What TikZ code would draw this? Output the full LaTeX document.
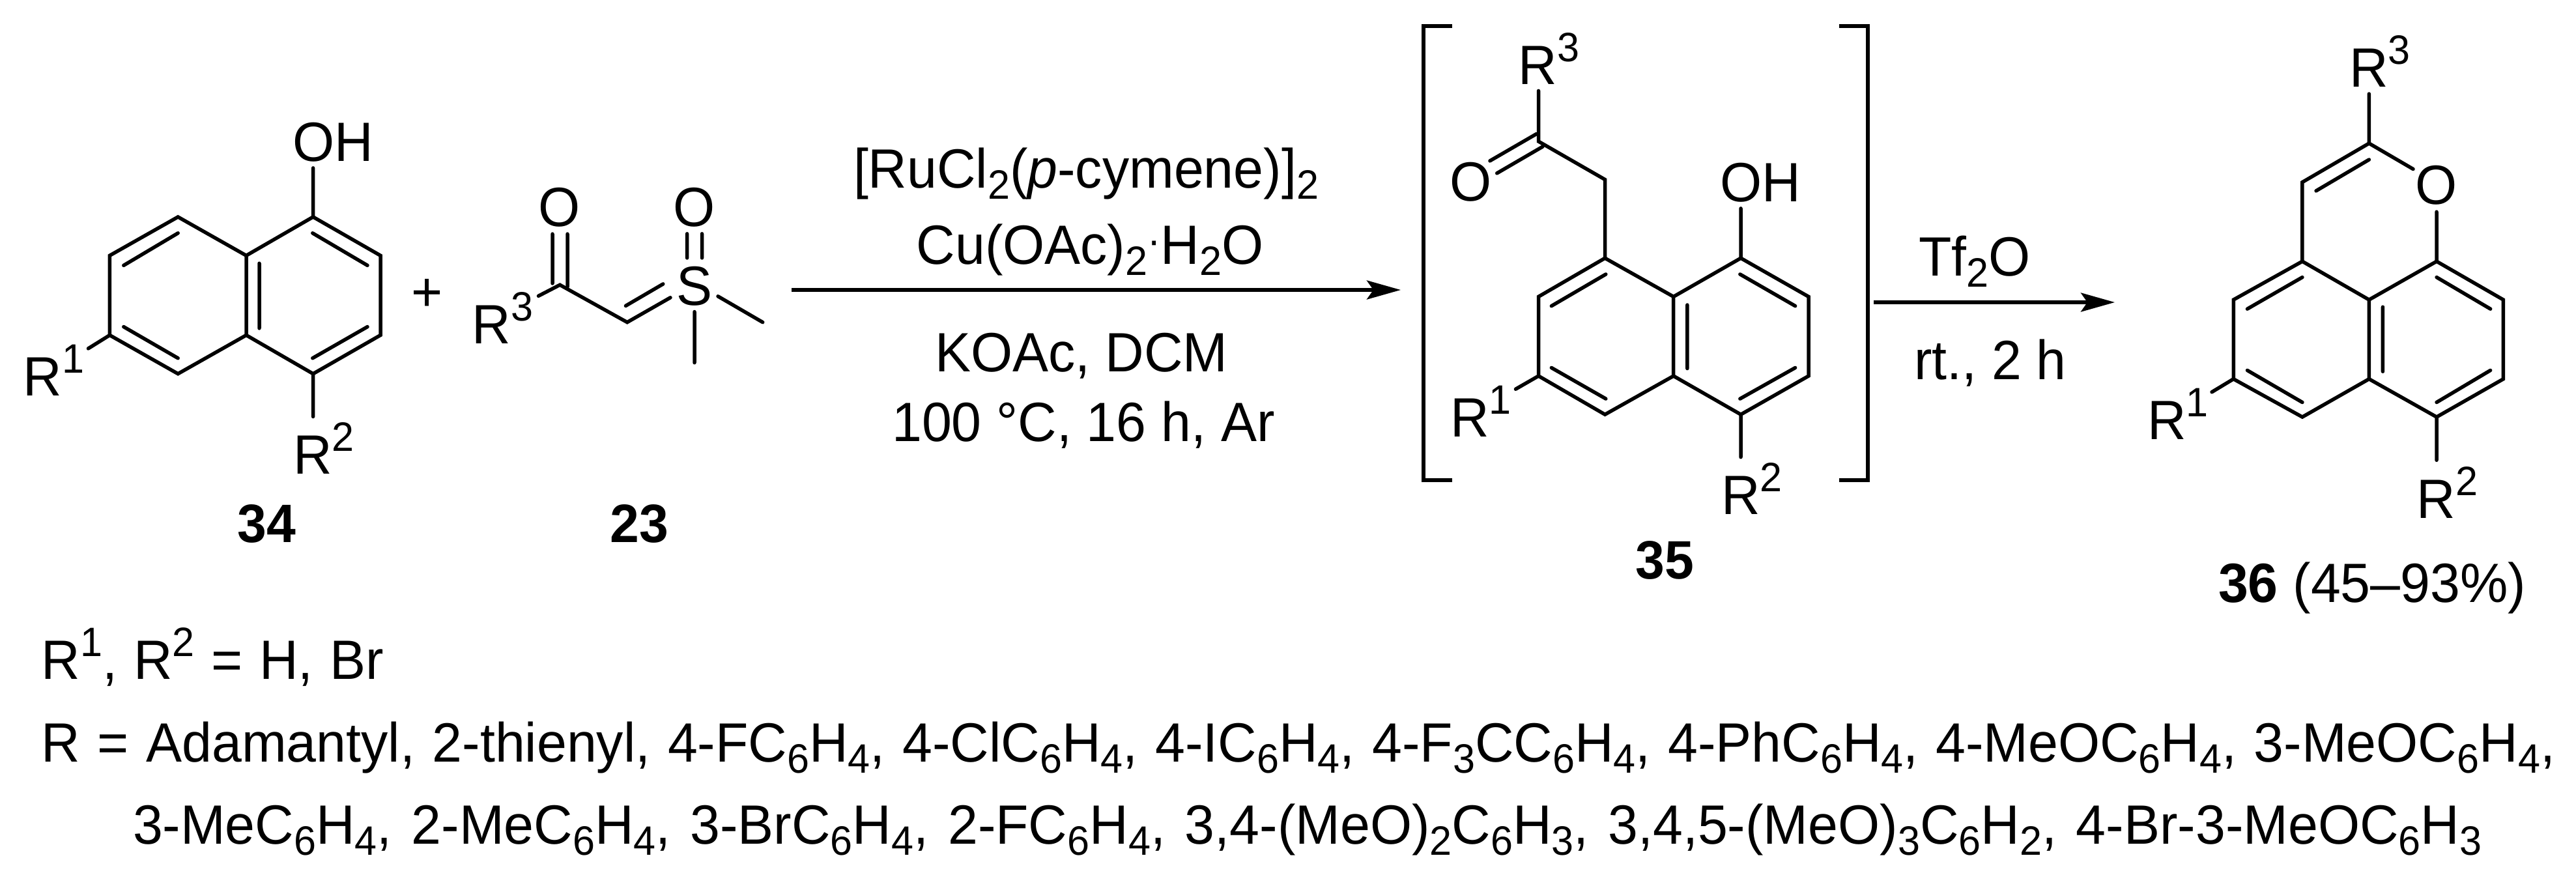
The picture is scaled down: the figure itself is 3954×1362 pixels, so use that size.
\documentclass[tikz,border=0pt]{standalone}
\usepackage{fontspec}
\setmainfont[FakeStretch=0.97]{Liberation Sans}
\usetikzlibrary{arrows.meta}
\newcommand{\smf}{\fontsize{12.6}{12.6}\selectfont}
\newcommand{\up}[1]{\raisebox{7pt}{\smf #1}}
\newcommand{\dn}[1]{\raisebox{-3.4pt}{\smf #1}}
\tikzset{
  x=0.2pt,y=-0.2pt,
  bond/.style={line width=1.1pt,line cap=round,line join=miter},
  txt/.style={inner sep=0pt,outer sep=0pt,font=\fontsize{17}{17}\selectfont,anchor=base},
  txtw/.style={txt,anchor=base west},
  bold/.style={txt,font=\fontsize{16.6}{16.6}\selectfont\bfseries},
  rxn/.style={line width=1.05pt,-{Stealth[length=10.4pt,width=5.8pt,inset=2pt]}},
  brk/.style={line width=1.2pt}
}
\begin{document}
\begin{tikzpicture}
\useasboundingbox (0,0) rectangle (3954,1362);
% ---------- 34
\foreach \n/\x/\y in {a1/480.6/334.9,a2/584/394.8,a3/584/518.3,a4/480.6/578.2,a5/378/518.3,a6/378/394.8,a7/273.2/334.9,a8/168.4/394.8,a9/168.4/518.3,a10/273.2/578.2,
 aOH/480.6/259,aR2/480.6/644.7,aR1/135.5/539,
 ai1/273.2/360,ai2/189.8/410.1,ai3/479.8/360,ai4/564/410.1,ai5/398/406.9,ai6/398/507.6,ai7/189.8/505.3,ai8/273.2/554,ai9/564/505.3,ai10/479.8/554}
 {\coordinate (\n) at (\x,{150+(\y-150)*0.9895});}
\draw[bond] (a1)--(a2)--(a3)--(a4)--(a5)--(a6)--cycle;
\draw[bond] (a6)--(a7)--(a8)--(a9)--(a10)--(a5);
\draw[bond] (a1)--(aOH) (a4)--(aR2) (a9)--(aR1);
\draw[bond] (ai1)--(ai2) (ai3)--(ai4) (ai5)--(ai6) (ai7)--(ai8) (ai9)--(ai10);
\node[txtw] (aLOH) at (449,247.5) {OH};
\node[txtw] (aLR1) at (35.5,607) {R\up{1}};
\node[txtw] (aLR2) at (450,727.7) {R\up{2}};
\node[bold] (l34) at (409.5,832.5) {34};
\node[txt] (plus) at (656,477.5) {+};
% ---------- 23
\foreach \n/\x/\y in {b1/859.4/440.3,b2/962.7/498.3,bR/826.5/457.5,bO1/848/361.3,bO1b/848/438,bO2/871/361.3,bO2b/871/443.5,
 bS1/1029/460,bi1/960.4/472.8,bi2/1017.8/438.9,bSO1/1054.6/361,bSO1b/1054.6/398.5,bSO2/1077.5/361,bSO2b/1077.5/398.5,
 bMa/1102/458,bMb/1170.7/498.3,bMc/1066/482,bMd/1066/561}
 {\coordinate (\n) at (\x,{150+(\y-150)*0.9895});}
\draw[bond] (bR)--(b1)--(b2)--(bS1);
\draw[bond] (bO1)--(bO1b) (bO2)--(bO2b) (bi1)--(bi2);
\draw[bond] (bSO1)--(bSO1b) (bSO2)--(bSO2b) (bMa)--(bMb) (bMc)--(bMd);
\node[txt] (bLO) at (859,347) {O};
\node[txt] (bLO2) at (1066,347) {O};
\node[txt] (bLS) at (1066,468.6) {S};
\node[txtw] (bLR) at (724.5,527) {R\up{3}};
\node[bold] (l23) at (981,832.5) {23};
% ---------- arrow 1
\coordinate (r1s) at (1215,445);
\coordinate (r1e) at (2150,445);
\draw[rxn] (r1s)--(r1e);
\node[txt] (t1) at (1667,288) {[RuCl\dn{2}(\textit{p}-cymene)]\dn{2}};
\node[txt] (t2) at (1673,405) {Cu(OAc)\dn{2}\raisebox{3pt}{\smf ·}H\dn{2}O};
\node[txt] (t3) at (1660,570.5) {KOAc, DCM};
\node[txt] (t4) at (1663,677.3) {100 °C, 16 h, Ar};
% ---------- 35
\foreach \n/\x/\y in {c1/2463.5/400.7,c2/2361.5/460.5,c3/2361.5/583.6,c4/2463.5/643.4,c5/2568.7/583.6,c6/2568.7/460.5,c7/2672/400.7,c8/2776/460.5,c9/2776/583.6,c10/2672/643.4,
 s1/2463.5/278.7,s2/2361.5/219.5,sR/2361.5/141,sO1/2286.9/249.7,sO1b/2358.3/207.9,sO2/2297.7/268.9,sO2b/2367.9/227.6,
 cOH/2672/323.5,cR1/2326.4/604,cR2/2672/709.6,
 ci1/2464.8/425.7,ci2/2381.3/475,ci3/2381.3/570.8,ci4/2464.8/619,ci5/2589.8/473.3,ci6/2589.8/572,ci7/2670.8/425.7,ci8/2755.6/475,ci9/2755.6/570.8,ci10/2670.8/619,
 bl1/2229/40.6,bl2/2185/40.6,bl3/2185/745,bl4/2229/745,br1/2822.6/40.6,br2/2866.6/40.6,br3/2866.6/745,br4/2822.6/745}
 {\coordinate (\n) at (\x,{\y*0.9888});}
\draw[brk] (bl1)--(bl2)--(bl3)--(bl4);
\draw[brk] (br1)--(br2)--(br3)--(br4);
\draw[bond] (c1)--(c2)--(c3)--(c4)--(c5)--(c6)--cycle;
\draw[bond] (c6)--(c7)--(c8)--(c9)--(c10)--(c5);
\draw[bond] (c1)--(s1)--(s2)--(sR);
\draw[bond] (sO1)--(sO1b) (sO2)--(sO2b);
\draw[bond] (c7)--(cOH) (c3)--(cR1) (c10)--(cR2);
\draw[bond] (ci1)--(ci2) (ci3)--(ci4) (ci5)--(ci6) (ci7)--(ci8) (ci9)--(ci10);
\node[txt] (cLO) at (2258,308.5) {O};
\node[txtw] (cLOH) at (2640,309) {OH};
\node[txtw] (cLR3) at (2330.5,129.2) {R\up{3}};
\node[txtw] (cLR1) at (2226,670) {R\up{1}};
\node[txtw] (cLR2) at (2642,789.6) {R\up{2}};
\node[bold] (l35) at (2555,888) {35};
% ---------- arrow 2
\coordinate (r2s) at (2876,464);
\coordinate (r2e) at (3246,464);
\draw[rxn] (r2s)--(r2e);
\node[txtw] (t5) at (2945,423.7) {Tf\dn{2}O};
\node[txtw] (t6) at (2938,582.4) {rt., 2 h};
% ---------- 36
\foreach \n/\x/\y in {d1/3636.3/221.8,d2/3533.9/281.9,d3/3533.9/404.4,d4/3428.2/463.8,d5/3428.2/586.4,d6/3533.9/645.2,d7/3636.3/586.4,d8/3636.3/463.8,d9/3740/404.4,d10/3842.4/463.8,d11/3842.4/586.4,d12/3740/645.2,
 dO1/3704/261.6,dO2/3740/327.8,dR3/3636.3/145.2,dR1/3395/606.6,dR2/3740/712,
 di1/3636.3/247,di2/3555/295.3,di3/3533.9/429,di4/3449.4/478,di5/3449.4/573,di6/3533.9/622.5,di7/3657.4/475,di8/3657.4/574.8,di9/3740/429,di10/3822.6/478,di11/3822.6/573,di12/3740/622.5}
 {\coordinate (\n) at (\x,{\y*0.992});}
\draw[bond] (dO1)--(d1)--(d2)--(d3)--(d4)--(d5)--(d6)--(d7)--(d8)--(d3);
\draw[bond] (d8)--(d9)--(d10)--(d11)--(d12)--(d7);
\draw[bond] (d9)--(dO2) (d1)--(dR3) (d5)--(dR1) (d12)--(dR2);
\draw[bond] (di1)--(di2) (di3)--(di4) (di5)--(di6) (di7)--(di8) (di9)--(di10) (di11)--(di12);
\node[txt] (dLO) at (3740,313) {O};
\node[txtw] (dLR3) at (3606,133.7) {R\up{3}};
\node[txtw] (dLR1) at (3296,674.6) {R\up{1}};
\node[txtw] (dLR2) at (3709.5,795) {R\up{2}};
\node[txtw] (l36) at (3405,924) {\textbf{36} (45–93\%)};
% ---------- bottom
\node[txtw] (n1) at (63.5,1042) {\spaceskip=5.1pt\relax R\up{1}, R\up{2} = H, Br};
\node[txtw] (n2) at (63.5,1169) {\spaceskip=5.35pt\relax R = Adamantyl, 2-thienyl, 4-FC\dn{6}H\dn{4}, 4-ClC\dn{6}H\dn{4}, 4-IC\dn{6}H\dn{4}, 4-F\dn{3}CC\dn{6}H\dn{4}, 4-PhC\dn{6}H\dn{4}, 4-MeOC\dn{6}H\dn{4}, 3-MeOC\dn{6}H\dn{4},};
\node[txtw] (n3) at (204,1295) {\spaceskip=6pt\relax 3-MeC\dn{6}H\dn{4}, 2-MeC\dn{6}H\dn{4}, 3-BrC\dn{6}H\dn{4}, 2-FC\dn{6}H\dn{4}, 3,4-(MeO)\dn{2}C\dn{6}H\dn{3}, 3,4,5-(MeO)\dn{3}C\dn{6}H\dn{2}, 4-Br-3-MeOC\dn{6}H\dn{3}};
\end{tikzpicture}
\end{document}
